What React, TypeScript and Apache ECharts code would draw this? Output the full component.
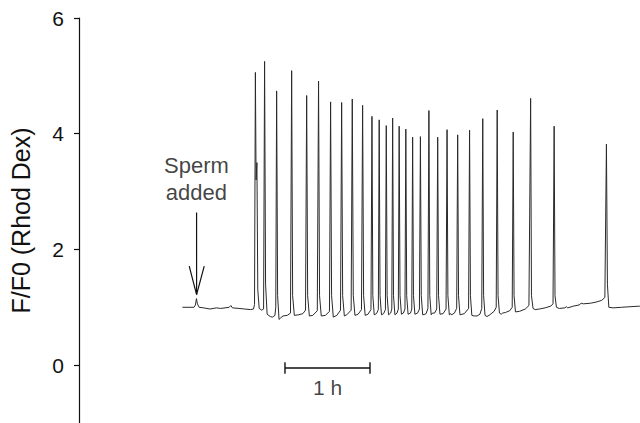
import React, { useEffect, useRef } from "react";
import * as echarts from "echarts";

// Time in minutes from the start of the recording; value = F/F0
const trace: [number, number][] = [
  [0, 1.0], [8.1, 1.0], [9.2, 1.04], [9.9, 1.15], [10.6, 1.06], [11.8, 1.0], [15, 0.99], [19.4, 0.97],
  [24, 0.99], [27, 0.98], [33, 1.0], [34.2, 1.03], [35.3, 0.99], [40, 0.98], [44, 0.97], [48, 0.96],
  [50.2, 0.97], [50.9, 1.05], [51.5, 5.06], [52.0, 3.2], [52.6, 3.5], [53.2, 1.3], [54.2, 0.98], [56, 0.95],
  [57.3, 0.97], [58.0, 5.25], [58.7, 1.4], [59.8, 0.88], [62, 0.84], [63.5, 0.83], [65.3, 0.86], [65.9, 1.0],
  [66.5, 4.74], [67.2, 1.2], [68.2, 0.79], [69.5, 0.82], [71, 0.85], [74, 0.86], [76.3, 0.9],
  [77.1, 5.09], [77.8, 1.2], [79, 0.86], [82, 0.87], [85, 0.89], [86.9, 0.95],
  [87.7, 4.66], [88.4, 1.2], [89.6, 0.85], [92, 0.86], [95.2, 0.94],
  [96.1, 4.91], [96.8, 1.2], [98, 0.85], [101, 0.86], [103.8, 0.93],
  [104.6, 4.55], [105.3, 1.2], [106.5, 0.83], [109, 0.86], [111.6, 0.95],
  [112.4, 4.54], [113.1, 1.2], [114.3, 0.85], [116, 0.87], [119.1, 0.95],
  [119.9, 4.6], [120.6, 1.2], [121.8, 0.86], [124, 0.88], [126.4, 0.96],
  [127.2, 4.49], [127.9, 1.2], [129, 0.86], [131, 0.88], [133.1, 0.96],
  [133.8, 4.3], [134.4, 1.2], [135.4, 0.87], [137, 0.89], [138.3, 0.96],
  [138.9, 4.24], [139.5, 1.2], [140.5, 0.87], [142, 0.89], [143.3, 0.96],
  [143.9, 4.14], [144.5, 1.2], [145.5, 0.87], [147, 0.9], [147.8, 0.97],
  [148.4, 4.27], [149, 1.2], [150, 0.87], [151.5, 0.9], [152.4, 0.97],
  [153.0, 4.13], [153.6, 1.2], [154.6, 0.88], [156, 0.9], [157.1, 0.97],
  [157.7, 4.08], [158.3, 1.2], [159.3, 0.88], [161, 0.9], [161.9, 0.97],
  [162.5, 3.94], [163.1, 1.2], [164.1, 0.88], [166, 0.9], [167.3, 0.97],
  [168.0, 3.95], [168.6, 1.2], [169.6, 0.87], [171.2, 0.88], [172, 0.89], [173.3, 0.98],
  [174.0, 4.4], [174.6, 1.2], [175.6, 0.87], [176.5, 0.9], [178, 0.9], [179.5, 0.97],
  [180.2, 3.94], [180.8, 1.2], [181.8, 0.88], [184, 0.89], [186.1, 0.97],
  [186.8, 4.07], [187.4, 1.2], [188.4, 0.87], [189.5, 0.89], [190, 0.87], [192, 0.9], [193.6, 0.98],
  [194.3, 3.98], [194.9, 1.2], [195.9, 0.87], [199, 0.89], [202, 0.98],
  [202.7, 4.06], [203.3, 1.2], [204.3, 0.86], [206, 0.85], [208, 0.85], [210, 0.88], [211.3, 0.98],
  [212.0, 4.26], [212.6, 1.2], [213.6, 0.86], [215, 0.84], [217, 0.87], [220, 0.93], [221.5, 1.0],
  [222.2, 4.41], [222.8, 1.2], [223.8, 0.9], [225, 0.88], [226, 0.9], [228, 0.91], [231, 0.94], [232.8, 1.0],
  [233.5, 4.03], [234.1, 1.2], [235.1, 0.92], [238, 0.93], [242, 0.97], [244.6, 1.03],
  [245.8, 4.61], [246.4, 1.2], [247.5, 0.98], [249, 0.96], [252, 0.97], [256, 0.99], [260, 1.02], [261.6, 1.06],
  [262.4, 4.13], [263, 1.2], [264, 1.0], [266, 0.98], [270, 0.99], [271, 1.01], [272, 0.99], [276, 1.02],
  [280, 1.04], [281.5, 1.07], [283, 1.06], [288, 1.07], [292, 1.09], [296, 1.12], [298.2, 1.17],
  [299.3, 3.82], [300, 1.4], [301, 1.0], [304, 0.99], [310, 1.0], [316, 1.01], [322.9, 1.02],
];

const yTicks = [0, 2, 4, 6];
const yName = "F/F0 (Rhod Dex)";

// "Sperm added" arrow
const arrowShaft: [number, number][] = [[10.0, 2.64], [10.0, 1.22]];
const arrowHead: [number, number][] = [[4.8, 1.71], [10.0, 1.22], [15.4, 1.71]];
const spermLabelPos: [number, number] = [9.9, 3.21];
const spermLabel = "Sperm\nadded";

// 1 h scale bar (60 min)
const scaleBar: [number, number][] = [
  [72.4, 0.05], [72.4, -0.15], [72.4, -0.05], [132.4, -0.05], [132.4, 0.05], [132.4, -0.15],
];
const scaleLabelPos: [number, number] = [102.4, -0.38];
const scaleLabel = "1 h";

const FONT = "'Liberation Sans', Arial, Helvetica, sans-serif";
const INK = "#111111";

export default function App() {
  const ref = useRef<HTMLDivElement>(null);
  useEffect(() => {
    if (!ref.current) return;
    const chart = echarts.init(ref.current, null, { renderer: "svg" });
    const plainLine = (data: [number, number][], width = 1.2) => ({
      type: "line",
      data,
      showSymbol: false,
      symbol: "none",
      silent: true,
      lineStyle: { color: INK, width },
      z: 3,
    });
    chart.setOption({
      animation: false,
      textStyle: { fontFamily: FONT },
      grid: { left: 79, right: 0, top: 18, height: 406 },
      xAxis: { type: "value", min: -73, max: 323, show: false },
      yAxis: {
        type: "value",
        min: -1,
        max: 6,
        name: yName,
        nameLocation: "middle",
        nameGap: 46,
        nameTextStyle: { fontSize: 25, color: INK, fontFamily: FONT },
        axisLine: { show: true, onZero: false, lineStyle: { color: INK, width: 1.2 } },
        axisTick: { show: true, length: 5, inside: false, customValues: yTicks, lineStyle: { color: INK, width: 1.2 } },
        axisLabel: { customValues: yTicks, fontSize: 21, color: INK, margin: 15, fontFamily: FONT },
        splitLine: { show: false },
      },
      series: [
        {
          type: "line",
          data: trace,
          showSymbol: false,
          symbol: "none",
          silent: true,
          lineStyle: { color: "#2a2a2a", width: 1 },
        },
        plainLine(arrowShaft),
        plainLine(arrowHead),
        plainLine(scaleBar, 1.4),
        {
          type: "scatter",
          data: [spermLabelPos],
          symbolSize: 0,
          silent: true,
          label: {
            show: true,
            position: "inside",
            formatter: spermLabel,
            fontSize: 22,
            lineHeight: 27,
            color: INK,
            fontFamily: FONT,
            align: "center",
            verticalAlign: "middle",
          },
        },
        {
          type: "scatter",
          data: [scaleLabelPos],
          symbolSize: 0,
          silent: true,
          label: {
            show: true,
            position: "inside",
            formatter: scaleLabel,
            fontSize: 21,
            color: INK,
            fontFamily: FONT,
            align: "center",
            verticalAlign: "middle",
          },
        },
      ],
    });
    return () => chart.dispose();
  }, []);
  return (
    <div
      ref={ref}
      style={{ position: "fixed", left: 0, top: 0, width: 640, height: 423, background: "#fff" }}
    />
  );
}
